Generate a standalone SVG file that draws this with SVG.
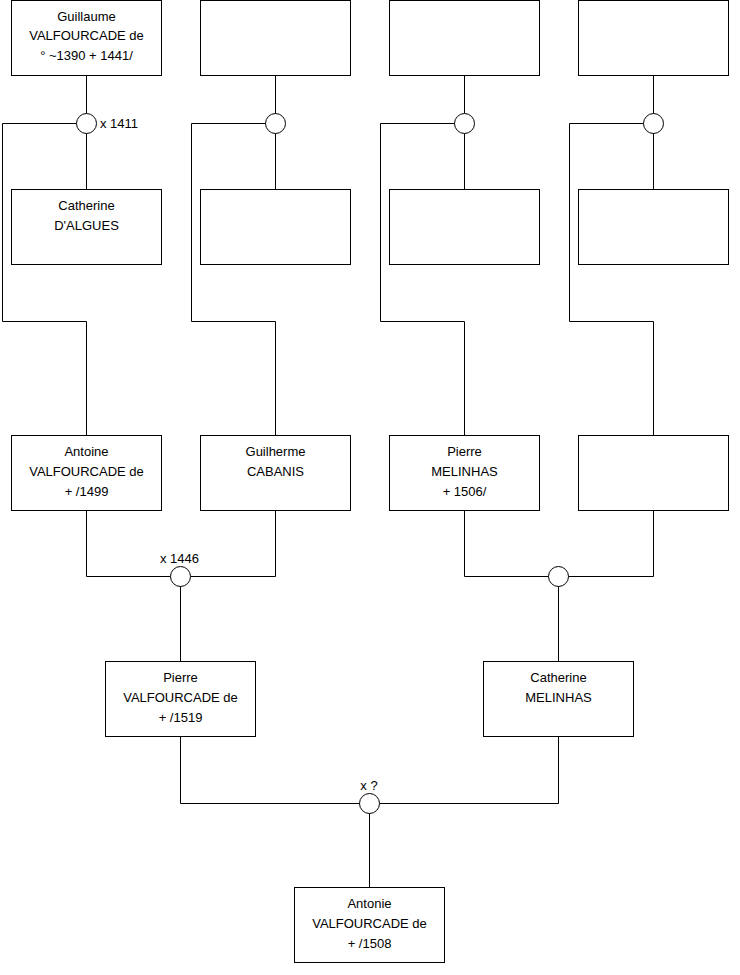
<svg xmlns="http://www.w3.org/2000/svg" width="740" height="975" viewBox="0 0 740 975">
<style>
.box{fill:#fff;stroke:#000;stroke-width:1}
.ln{fill:none;stroke:#000;stroke-width:1}
.c{fill:#fff;stroke:#000;stroke-width:1}
text{font-family:"Liberation Sans",Arial,sans-serif;font-size:13px;fill:#000}
.m{text-anchor:middle}
</style>
<rect width="740" height="975" fill="#fff"/>
<g id="connectors">
<path class="ln" d="M86.5 75.5V123.5M86.5 123.5V189.5M86.5 123.5H2.5V321.5H86.5V435.5"/>
<path class="ln" d="M275.5 75.5V189.5M275.5 123.5H191.5V321.5H275.5V435.5"/>
<path class="ln" d="M464.5 75.5V189.5M464.5 123.5H380.5V321.5H464.5V435.5"/>
<path class="ln" d="M653.5 75.5V189.5M653.5 123.5H569.5V321.5H653.5V435.5"/>
<path class="ln" d="M86.5 510.5V576.5H275.5V510.5M180.5 576.5V661.5"/>
<path class="ln" d="M464.5 510.5V576.5H653.5V510.5M558.5 576.5V661.5"/>
<path class="ln" d="M180.5 736.5V803.5H558.5V736.5M369.5 803.5V887.5"/>
<circle class="c" cx="86.5" cy="123.5" r="10"/>
<circle class="c" cx="275.5" cy="123.5" r="10"/>
<circle class="c" cx="464.5" cy="123.5" r="10"/>
<circle class="c" cx="653.5" cy="123.5" r="10"/>
<circle class="c" cx="180.5" cy="576.5" r="10"/>
<circle class="c" cx="558.5" cy="576.5" r="10"/>
<circle class="c" cx="369.5" cy="803.5" r="10"/>
<text x="100" y="128">x 1411</text>
<text class="m" x="179.5" y="563">x 1446</text>
<text class="m" x="369" y="790">x ?</text>
</g>
<g id="guillaume"><rect class="box" x="11.5" y="0.5" width="150" height="75"/>
<text class="m" x="86.5" y="20.5">Guillaume</text><text class="m" x="86.5" y="40">VALFOURCADE de</text><text class="m" x="86.5" y="60">° ~1390 + 1441/</text></g>
<g id="p2"><rect class="box" x="200.5" y="0.5" width="150" height="75"/></g>
<g id="p3"><rect class="box" x="389.5" y="0.5" width="150" height="75"/></g>
<g id="p4"><rect class="box" x="578.5" y="0.5" width="150" height="75"/></g>
<g id="catherine-dalgues"><rect class="box" x="11.5" y="189.5" width="150" height="75"/>
<text class="m" x="86.5" y="209.5">Catherine</text><text class="m" x="86.5" y="229.5">D'ALGUES</text></g>
<g id="p6"><rect class="box" x="200.5" y="189.5" width="150" height="75"/></g>
<g id="p7"><rect class="box" x="389.5" y="189.5" width="150" height="75"/></g>
<g id="p8"><rect class="box" x="578.5" y="189.5" width="150" height="75"/></g>
<g id="antoine"><rect class="box" x="11.5" y="435.5" width="150" height="75"/>
<text class="m" x="86.5" y="455.5">Antoine</text><text class="m" x="86.5" y="475.5">VALFOURCADE de</text><text class="m" x="86.5" y="495.5">+ /1499</text></g>
<g id="guilherme"><rect class="box" x="200.5" y="435.5" width="150" height="75"/>
<text class="m" x="275.5" y="455.5">Guilherme</text><text class="m" x="275.5" y="475.5">CABANIS</text></g>
<g id="pierre-melinhas"><rect class="box" x="389.5" y="435.5" width="150" height="75"/>
<text class="m" x="464.5" y="455.5">Pierre</text><text class="m" x="464.5" y="475.5">MELINHAS</text><text class="m" x="464.5" y="495.5">+ 1506/</text></g>
<g id="p12"><rect class="box" x="578.5" y="435.5" width="150" height="75"/></g>
<g id="pierre-valfourcade"><rect class="box" x="105.5" y="661.5" width="150" height="75"/>
<text class="m" x="180.5" y="681.5">Pierre</text><text class="m" x="180.5" y="701.5">VALFOURCADE de</text><text class="m" x="180.5" y="721.5">+ /1519</text></g>
<g id="catherine-melinhas"><rect class="box" x="483.5" y="661.5" width="150" height="75"/>
<text class="m" x="558.5" y="681.5">Catherine</text><text class="m" x="558.5" y="701.5">MELINHAS</text></g>
<g id="antonie"><rect class="box" x="294.5" y="887.5" width="150" height="75"/>
<text class="m" x="369.5" y="907.5">Antonie</text><text class="m" x="369.5" y="927.5">VALFOURCADE de</text><text class="m" x="369.5" y="947.5">+ /1508</text></g>
</svg>
